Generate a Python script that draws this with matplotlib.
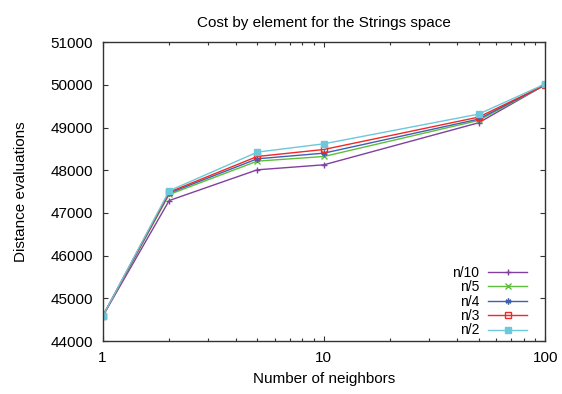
import matplotlib
matplotlib.use('Agg')
import matplotlib.pyplot as plt
from matplotlib.ticker import LogLocator, FixedLocator, NullFormatter

plt.rcParams['font.family'] = ['Liberation Sans', 'DejaVu Sans']
plt.rcParams['font.size'] = 11

neighbors = [1, 2, 5, 10, 50, 100]
n10 = [44575, 47290, 48010, 48127, 49111, 50000]
n5 = [44575, 47432, 48213, 48322, 49166, 50000]
n4 = [44575, 47464, 48268, 48400, 49197, 50000]
n3 = [44575, 47487, 48322, 48486, 49244, 49996]
n2 = [44575, 47518, 48424, 48619, 49314, 50020]
labels = ['n/10', 'n/5', 'n/4', 'n/3', 'n/2']

series = [n10, n5, n4, n3, n2]
colors = ['#8040a0', '#5cbf3c', '#3f5fb0', '#f02828', '#6cc8da']
markers = ['+', 'x', (6, 2, 0), 's', 's']
faces = ['none', 'none', 'none', 'none', '#6cc8da']

fig = plt.figure(figsize=(5.62, 3.94), dpi=100)
ax = fig.add_axes([0.1825, 0.1345, 0.7875, 0.7585])

for ys, c, m, fc, lab in zip(series, colors, markers, faces, labels):
    ax.plot(neighbors, ys, color=c, lw=1.0, marker=m, ms=4.2,
            mfc=fc, mec=c, mew=1.0, label=lab)

ax.set_xscale('log')
ax.set_xlim(1, 100)
ax.set_ylim(44000, 51000)
ax.xaxis.set_major_locator(FixedLocator([1, 10, 100]))
ax.set_xticklabels(['1', '10', '100'])
ax.xaxis.set_minor_locator(LogLocator(base=10, subs=range(2, 10)))
ax.xaxis.set_minor_formatter(NullFormatter())
ax.set_yticks(range(44000, 51001, 1000))

ax.tick_params(which='both', direction='in', top=True, right=True,
               color='#333333', width=0.8)
ax.tick_params(which='major', length=3.6, pad=7)
ax.tick_params(which='minor', length=2)
for s in ax.spines.values():
    s.set_color('#333333')
    s.set_linewidth(1.0)

ax.set_title('Cost by element for the Strings space', fontsize=11, pad=11)
ax.set_xlabel('Number of neighbors', labelpad=5)
ax.set_ylabel('Distance evaluations', labelpad=16)

ax.legend(loc='lower right', bbox_to_anchor=(0.959, 0.012), frameon=False,
          markerfirst=False, handlelength=2.8, handletextpad=0.65,
          labelspacing=0.03, borderpad=0, borderaxespad=0, fontsize=10)

fig.savefig('out.png', dpi=100)
